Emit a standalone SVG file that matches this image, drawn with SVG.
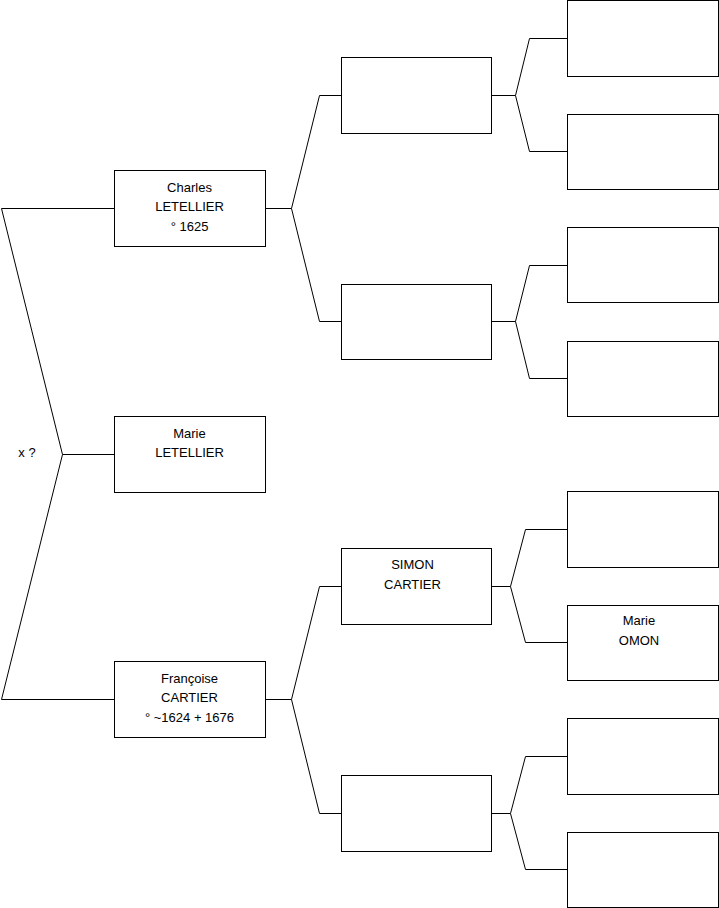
<svg xmlns="http://www.w3.org/2000/svg" width="719" height="908" viewBox="0 0 719 908">
<style>
.box{fill:#fff;stroke:#000;stroke-width:1}
.c{fill:none;stroke:#000;stroke-width:1}
text{font-family:"Liberation Sans",Arial,sans-serif;font-size:13px;fill:#000;text-anchor:middle}
</style>
<rect width="719" height="908" fill="#fff"/>
<g id="connectors">
<polyline class="c" points="114.5,208.5 1.5,208.5 62.5,454.5 1.5,699.5 114.5,699.5"/>
<line class="c" x1="62.5" y1="454.5" x2="114.5" y2="454.5"/>
<polyline class="c" points="341.5,95.5 319.5,95.5 291.5,208.5 319.5,321.5 341.5,321.5"/>
<line class="c" x1="265.5" y1="208.5" x2="291.5" y2="208.5"/>
<polyline class="c" points="341.5,586.5 319.5,586.5 291.5,699.5 319.5,813.5 341.5,813.5"/>
<line class="c" x1="265.5" y1="699.5" x2="291.5" y2="699.5"/>
<polyline class="c" points="567.5,38.5 529.5,38.5 515.5,95.5 529.5,151.5 567.5,151.5"/>
<line class="c" x1="491.5" y1="95.5" x2="515.5" y2="95.5"/>
<polyline class="c" points="567.5,265.5 529.5,265.5 515.5,321.5 529.5,378.5 567.5,378.5"/>
<line class="c" x1="491.5" y1="321.5" x2="515.5" y2="321.5"/>
<polyline class="c" points="567.5,529.5 525.5,529.5 510.5,586.5 525.5,642.5 567.5,642.5"/>
<line class="c" x1="491.5" y1="586.5" x2="510.5" y2="586.5"/>
<polyline class="c" points="567.5,756.5 525.5,756.5 510.5,813.5 525.5,869.5 567.5,869.5"/>
<line class="c" x1="491.5" y1="813.5" x2="510.5" y2="813.5"/>
<text x="27" y="456.5">x ?</text>
</g>
<g id="charles"><rect class="box" x="114.5" y="170.5" width="151" height="76"/>
<text x="189.5" y="191.5">Charles</text><text x="189.5" y="211">LETELLIER</text><text x="189.5" y="230.5">° 1625</text></g>
<g id="marie"><rect class="box" x="114.5" y="416.5" width="151" height="76"/>
<text x="189.5" y="437.5">Marie</text><text x="189.5" y="457">LETELLIER</text></g>
<g id="francoise"><rect class="box" x="114.5" y="661.5" width="151" height="76"/>
<text x="189.5" y="682.5">Françoise</text><text x="189.5" y="702">CARTIER</text><text x="189.5" y="721.5">° ~1624 + 1676</text></g>
<g id="g2a"><rect class="box" x="341.5" y="57.5" width="150" height="76"/></g>
<g id="g2b"><rect class="box" x="341.5" y="284.5" width="150" height="75"/></g>
<g id="simon"><rect class="box" x="341.5" y="548.5" width="150" height="76"/>
<text x="412.5" y="569">SIMON</text><text x="412.5" y="588.5">CARTIER</text></g>
<g id="g2d"><rect class="box" x="341.5" y="775.5" width="150" height="76"/></g>
<g id="g3a"><rect class="box" x="567.5" y="0.5" width="151" height="76"/></g>
<g id="g3b"><rect class="box" x="567.5" y="114.5" width="151" height="75"/></g>
<g id="g3c"><rect class="box" x="567.5" y="227.5" width="151" height="75"/></g>
<g id="g3d"><rect class="box" x="567.5" y="341.5" width="151" height="75"/></g>
<g id="g3e"><rect class="box" x="567.5" y="491.5" width="151" height="76"/></g>
<g id="omon"><rect class="box" x="567.5" y="605.5" width="151" height="75"/>
<text x="639" y="625">Marie</text><text x="639" y="644.5">OMON</text></g>
<g id="g3g"><rect class="box" x="567.5" y="718.5" width="151" height="76"/></g>
<g id="g3h"><rect class="box" x="567.5" y="832.5" width="151" height="75"/></g>
</svg>
